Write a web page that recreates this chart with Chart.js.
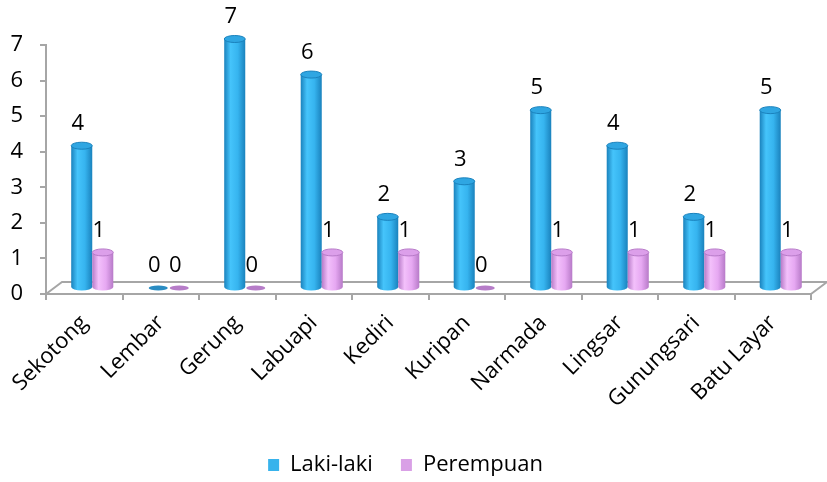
<!DOCTYPE html>
<html>
<head>
<meta charset="utf-8">
<script src="https://cdn.jsdelivr.net/npm/chart.js@4/dist/chart.umd.min.js"></script>
<style>
  html, body { margin: 0; padding: 0; background: #fff; }
  #wrap { width: 827px; height: 482px; }
</style>
</head>
<body>
<div id="wrap"><canvas id="chart1"></canvas></div>
<script>
// kecamatan
const categories = ["Sekotong", "Lembar", "Gerung", "Labuapi", "Kediri", "Kuripan", "Narmada", "Lingsar", "Gunungsari", "Batu Layar"];
const lakiLaki = [4, 0, 7, 6, 2, 3, 5, 4, 2, 5];
const perempuan = [1, 0, 0, 1, 1, 0, 1, 1, 1, 1];
const yTicks = [0, 1, 2, 3, 4, 5, 6, 7];

const FONT = "'Open Sans', 'Noto Sans', sans-serif";
const depthX = 16, depthY = -12; // floor depth

const looks = [
    {edge: "#1a82bd", light: "#45c4fb", mid: "#36b4ef", top: "#2fa6e2", flat: "#2a8cc2"},
    {edge: "#b77ac8", light: "#f3c0fb", mid: "#e6a8f2", top: "#dc9fea", flat: "#b67cc8"}
];

const cylinders = {
    id: "cylinders",
    beforeDatasetsDraw(chart) {
        // the 3d floor
        const ctx = chart.ctx, a = chart.chartArea;
        ctx.save();
        ctx.strokeStyle = "#a6a6a6";
        ctx.lineWidth = 2;
        ctx.beginPath();
        ctx.moveTo(a.left, a.bottom);
        ctx.lineTo(a.left + depthX, a.bottom + depthY);
        ctx.lineTo(a.right + depthX, a.bottom + depthY);
        ctx.lineTo(a.right, a.bottom);
        ctx.stroke();
        ctx.restore();
    },
    beforeDatasetDraw() {
        return false; // skip flat bars, drawn below
    },
    afterDatasetsDraw(chart) {
        const ctx = chart.ctx;
        ctx.save();
        chart.data.datasets.forEach((ds, di) => {
            const lk = looks[di];
            chart.getDatasetMeta(di).data.forEach((el, i) => {
                const w = el.width;
                const cx = el.x + depthX / 2;
                const left = cx - w / 2, right = cx + w / 2;
                const top = el.y + depthY / 2;
                const base = el.base + depthY / 2;
                const ry = 3.5;
                if (ds.data[i] === 0) {
                    ctx.fillStyle = lk.flat;
                    ctx.beginPath();
                    ctx.ellipse(cx, base, w / 2 - 1, 2.5, 0, 0, Math.PI * 2);
                    ctx.fill();
                    return;
                }
                const g = ctx.createLinearGradient(left, 0, right, 0);
                g.addColorStop(0, lk.edge);
                g.addColorStop(0.3, lk.light);
                g.addColorStop(0.65, lk.mid);
                g.addColorStop(1, lk.edge);
                ctx.fillStyle = g;
                ctx.beginPath();
                ctx.moveTo(left, top);
                ctx.lineTo(left, base);
                ctx.ellipse(cx, base, w / 2, ry, 0, Math.PI, 0, true);
                ctx.lineTo(right, top);
                ctx.closePath();
                ctx.fill();
                ctx.fillStyle = lk.top;
                ctx.strokeStyle = lk.edge;
                ctx.lineWidth = 1;
                ctx.beginPath();
                ctx.ellipse(cx, top, w / 2, ry, 0, 0, Math.PI * 2);
                ctx.fill();
                ctx.stroke();
            });
        });
        // value labels
        ctx.fillStyle = "#000";
        ctx.font = "22px " + FONT;
        ctx.textAlign = "center";
        ctx.textBaseline = "middle";
        chart.data.datasets.forEach((ds, di) => {
            chart.getDatasetMeta(di).data.forEach((el, i) => {
                ctx.fillText(String(ds.data[i]), el.x + 4, el.y - 28);
            });
        });
        ctx.restore();
    }
};

new Chart("chart1", {
    type: "bar",
    data: {
        labels: categories,
        datasets: [{
            label: "Laki-laki",
            data: lakiLaki,
            backgroundColor: "#38b3ec",
            borderWidth: 0,
            categoryPercentage: 0.55,
            barPercentage: 1
        }, {
            label: "Perempuan",
            data: perempuan,
            backgroundColor: "#d9a0e6",
            borderWidth: 0,
            categoryPercentage: 0.55,
            barPercentage: 1
        }]
    },
    options: {
        responsive: true,
        maintainAspectRatio: false,
        animation: false,
        layout: {padding: {top: 45, right: 16, left: 0, bottom: -4}},
        plugins: {
            legend: {
                position: "bottom",
                labels: {
                    font: {size: 22, family: FONT},
                    color: "#000",
                    boxWidth: 11,
                    boxHeight: 12,
                    padding: 28
                }
            },
            tooltip: {enabled: false}
        },
        scales: {
            x: {
                grid: {display: true, drawOnChartArea: false, tickLength: 6, color: "#a6a6a6", lineWidth: 2},
                border: {color: "#a6a6a6", width: 2},
                ticks: {
                    font: {size: 22, family: FONT},
                    color: "#000",
                    minRotation: 45,
                    maxRotation: 45,
                    padding: 10,
                    autoSkip: false
                },
                afterFit(scale) {
                    scale.height = 132;
                    scale.paddingLeft = 0;
                    scale.paddingRight = 0;
                }
            },
            y: {
                min: 0,
                max: 7,
                afterBuildTicks(scale) {
                    scale.ticks = yTicks.map(v => ({value: v}));
                },
                grid: {display: true, drawOnChartArea: false, tickLength: 6, color: "#a6a6a6", lineWidth: 2},
                border: {color: "#a6a6a6", width: 2},
                ticks: {
                    font: {size: 22, family: FONT},
                    color: "#000",
                    padding: 17
                },
                afterFit(scale) {
                    scale.width = 46;
                }
            }
        }
    },
    plugins: [cylinders]
});
</script>
</body>
</html>
